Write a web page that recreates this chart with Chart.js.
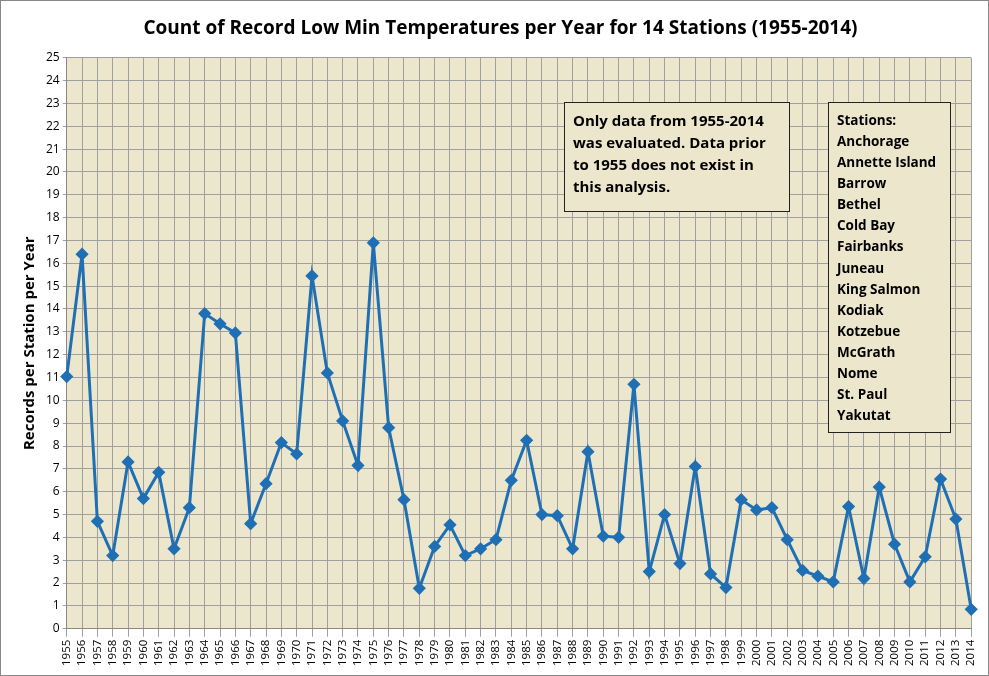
<!DOCTYPE html>
<html>
<head>
<script src="https://cdn.jsdelivr.net/npm/chart.js@4"></script>
<style>
  body { margin: 0; background: #fff; }
  #wrap { width: 989px; height: 676px; box-sizing: border-box; border: 1px solid #888; position: relative; }
  canvas { position: absolute; left: 0; top: 0; }
</style>
</head>
<body>
<div id="wrap"><canvas id="line" width="987" height="674"></canvas></div>
<script>
const years = [];
for (let y = 1955; y <= 2014; y++) years.push(String(y));
const records = [11.04, 16.4, 4.7, 3.2, 7.3, 5.7, 6.85, 3.5, 5.3, 13.8,
  13.35, 12.95, 4.6, 6.35, 8.15, 7.65, 15.45, 11.2, 9.1, 7.15,
  16.9, 8.8, 5.65, 1.77, 3.6, 4.55, 3.2, 3.5, 3.9, 6.5,
  8.25, 5.0, 4.95, 3.5, 7.75, 4.05, 4.0, 10.7, 2.5, 5.0,
  2.85, 7.1, 2.4, 1.8, 5.65, 5.2, 5.3, 3.9, 2.55, 2.3,
  2.05, 5.35, 2.2, 6.2, 3.7, 2.05, 3.15, 6.55, 4.8, 0.85];

const stations = ["Stations:", "Anchorage", "Annette Island", "Barrow", "Bethel", "Cold Bay",
  "Fairbanks", "Juneau", "King Salmon", "Kodiak", "Kotzebue", "McGrath", "Nome", "St. Paul", "Yakutat"];

const boxes = {
  id: "boxes",
  beforeDraw(chart) {
    const { ctx, chartArea: a } = chart;
    ctx.save();
    ctx.fillStyle = "#ece6cc";
    ctx.fillRect(a.left, a.top, a.right - a.left, a.bottom - a.top);
    ctx.restore();
  },
  afterDraw(chart) {
    const { ctx } = chart;
    ctx.save();
    ctx.strokeStyle = "#222";
    ctx.lineWidth = 1;
    ctx.fillStyle = "#ece6cc";
    ctx.fillRect(563, 101, 225, 109);
    ctx.strokeRect(563.5, 101.5, 225, 109);
    ctx.fillRect(827, 101, 122, 330);
    ctx.strokeRect(827.5, 101.5, 122, 330);
    ctx.fillStyle = "#000";
    ctx.font = "bold 15px 'Open Sans', sans-serif";
    ctx.textBaseline = "middle";
    ["Only data from 1955-2014", "was evaluated. Data prior", "to 1955 does not exist in", "this analysis."]
      .forEach((t, i) => ctx.fillText(t, 572, 121 + i * 22));
    ctx.font = "bold 13.5px 'Open Sans', sans-serif";
    stations.forEach((t, i) => ctx.fillText(t, 836, 120 + i * 21.1));
    ctx.restore();
  },
};

new Chart(document.getElementById("line"), {
  type: "line",
  data: {
    labels: years,
    datasets: [{
      label: "Records",
      data: records,
      borderColor: "#1f6fb5",
      backgroundColor: "#1f6fb5",
      borderWidth: 3,
      pointStyle: "rectRot",
      pointRadius: 4.5,
      tension: 0,
    }],
  },
  options: {
    responsive: false,
    animation: false,
    layout: { padding: { top: 14, right: 4, left: 16, bottom: 6 } },
    plugins: {
      legend: { display: false },
      tooltip: { enabled: false },
      title: {
        display: true,
        text: "Count of Record Low Min Temperatures per Year for 14 Stations (1955-2014)",
        color: "#000",
        font: { family: "'Open Sans', sans-serif", size: 19, weight: "bold" },
        padding: { top: 2, bottom: 18 },
      },
    },
    scales: {
      y: {
        min: 0, max: 25,
        ticks: { stepSize: 1, color: "#000", font: { family: "'Open Sans', sans-serif", size: 12 } },
        grid: { color: "#a0a0a0", drawTicks: true, tickLength: 4 },
        border: { color: "#888" },
        title: { display: true, text: "Records per Station per Year", color: "#000",
          font: { family: "'Open Sans', sans-serif", size: 15, weight: "bold" } },
      },
      x: {
        ticks: { color: "#000", maxRotation: 90, minRotation: 90, autoSkip: false,
          font: { family: "'Open Sans', sans-serif", size: 11.5 } },
        grid: { color: "#a0a0a0" },
        border: { color: "#888" },
      },
    },
  },
  plugins: [boxes],
});
</script>
</body>
</html>
